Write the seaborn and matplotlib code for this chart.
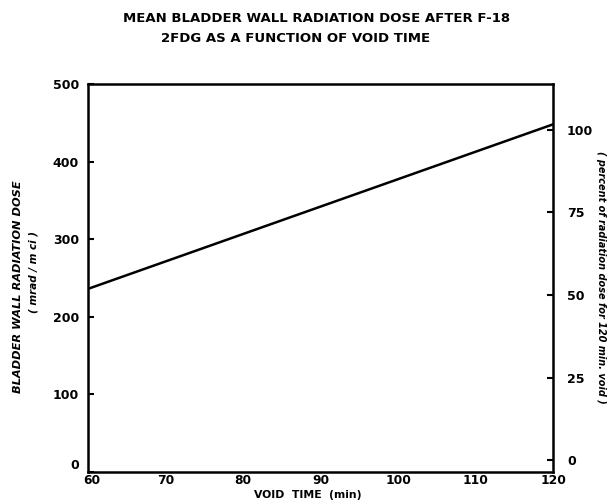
import matplotlib
matplotlib.use("Agg")
import matplotlib.pyplot as plt
import matplotlib.transforms as mtransforms
import seaborn as sns
import pandas as pd

# values
void_time = [60, 120]
dose = [236, 448]               # mrad/mCi
left_ticks = [0, 100, 200, 300, 400, 500]
right_ticks = [0, 25, 50, 75, 100]
x_ticks = [60, 70, 80, 90, 100, 110, 120]

sns.set_style("white")
plt.rcParams['font.family'] = ['DejaVu Sans']
plt.rcParams['text.color'] = 'black'

df = pd.DataFrame({"void": void_time, "dose": dose})

fig = plt.figure(figsize=(6.15, 5), dpi=100)
ax = fig.add_axes([0.1431, 0.056, 0.7561, 0.776])

sns.lineplot(data=df, x="void", y="dose", color="black", linewidth=1.8, ax=ax)

ax.set_xlim(60, 120)
ax.set_ylim(0, 500)
ax.set_xticks(x_ticks)
ax.set_yticks(left_ticks)
ax.set_xlabel("")
ax.set_ylabel("")
for s in ax.spines.values():
    s.set_color("black")
    s.set_linewidth(1.8)
ax.tick_params(axis="y", direction="in", length=4, width=1.5, colors="black",
               labelsize=9, pad=6.5)
ax.tick_params(axis="x", direction="in", length=4, width=1.5, colors="black",
               labelsize=8.8, pad=1.5)
for lab in ax.get_xticklabels() + ax.get_yticklabels():
    lab.set_fontweight("bold")

# corner labels sit a little off the corner in the original
ylab0 = ax.get_yticklabels()[0]
ylab0.set_transform(ylab0.get_transform() +
                    mtransforms.ScaledTranslation(0, 6 / 72, fig.dpi_scale_trans))
xlab0 = ax.get_xticklabels()[0]
xlab0.set_transform(xlab0.get_transform() +
                    mtransforms.ScaledTranslation(3 / 72, 0, fig.dpi_scale_trans))

# right axis: percent of dose for 120 min void (drawn slightly offset in original)
ax2 = ax.twinx()
ax2.set_ylim(-3.6, 113.9)
ax2.set_yticks(right_ticks)
ax2.tick_params(direction="in", length=4, width=1.5, colors="black",
                labelsize=9, pad=10)
for lab in ax2.get_yticklabels():
    lab.set_fontweight("bold")
ax2.grid(False)
for s in ax2.spines.values():
    s.set_visible(False)

fig.text(0.515, 0.964, "MEAN BLADDER WALL RADIATION DOSE AFTER F-18",
         fontsize=9.5, fontweight="bold", ha="center", va="center")
fig.text(0.481, 0.924, "2FDG AS A FUNCTION OF VOID TIME",
         fontsize=9.5, fontweight="bold", ha="center", va="center")

fig.text(0.029, 0.426, "BLADDER WALL RADIATION DOSE", rotation=90,
         fontsize=8.2, fontweight="bold", fontstyle="italic",
         ha="center", va="center")
fig.text(0.055, 0.456, "( mrad / m ci )", rotation=90,
         fontsize=7.5, fontweight="bold", fontstyle="italic",
         ha="center", va="center")
fig.text(0.977, 0.446, "( percent of radiation dose for 120 min. void )",
         rotation=-90, fontsize=7, fontweight="bold", fontstyle="italic",
         ha="center", va="center")
fig.text(0.5, 0.011, "VOID  TIME  (min)", fontsize=7.8, fontweight="bold",
         ha="center", va="center")

fig.savefig("out.png", dpi=100)
